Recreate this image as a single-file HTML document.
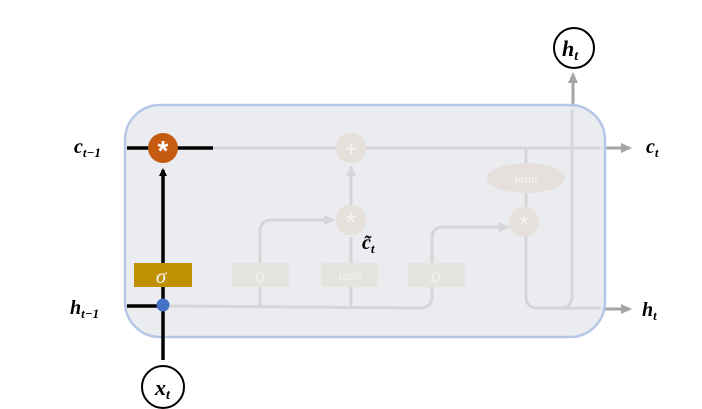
<!DOCTYPE html>
<html><head><style>body{margin:0;background:#fff}svg{display:block}</style></head><body>
<svg width="702" height="409" viewBox="0 0 702 409" xmlns="http://www.w3.org/2000/svg" font-family="Liberation Serif, serif">
<defs>
<marker id="ab" markerWidth="8" markerHeight="8" refX="6" refY="4" orient="auto" markerUnits="userSpaceOnUse"><path d="M0,0 L8,4 L0,8z" fill="#000"/></marker>
<marker id="ag" markerWidth="12" markerHeight="12" refX="9" refY="6" orient="auto" markerUnits="userSpaceOnUse"><path d="M0,1 L11,6 L0,11z" fill="#a6a6a6"/></marker>
<marker id="al" markerWidth="12" markerHeight="12" refX="9" refY="6" orient="auto" markerUnits="userSpaceOnUse"><path d="M0,1 L11,6 L0,11z" fill="#d6d6d8"/></marker>
</defs>
<!-- outside grey arrows -->
<line x1="560" y1="148" x2="630" y2="148" stroke="#a6a6a6" stroke-width="3" marker-end="url(#ag)"/>
<line x1="560" y1="309" x2="630" y2="309" stroke="#a6a6a6" stroke-width="3" marker-end="url(#ag)"/>
<line x1="573" y1="300" x2="573" y2="74" stroke="#a6a6a6" stroke-width="3" marker-end="url(#ag)"/>
<!-- box -->
<rect x="125" y="105" width="480" height="232" rx="35" fill="#eaebee" fill-opacity="0.93" stroke="#b5c7e6" stroke-width="2.5"/>
<!-- faint internals -->
<g stroke="#d6d6d8" stroke-width="3" fill="none">
<line x1="213" y1="148" x2="600" y2="148"/>
<path d="M170 306 L420 308 Q432 308 432 296 L432 238 Q432 227 444 227 L508 227" marker-end="url(#al)"/>
<path d="M260 306 L260 232 Q260 220 272 220 L333 220" marker-end="url(#al)"/>
<line x1="351" y1="306" x2="351" y2="237"/>
<line x1="351" y1="205" x2="351" y2="167" marker-end="url(#al)"/>
<line x1="526" y1="148" x2="526" y2="208"/>
<path d="M526 236 L526 296 Q526 308 538 308 L600 308"/>
<path d="M560 308 Q572 308 572 296 L572 110"/>
</g>
<rect x="232" y="263" width="57" height="24" fill="#e6e4df"/>
<rect x="321" y="263" width="57" height="24" fill="#e6e4df"/>
<rect x="408" y="263" width="57" height="24" fill="#e6e4df"/>
<g fill="#f2f2f2" font-style="italic" text-anchor="middle">
<text x="260" y="282" font-size="20">σ</text>
<text x="350" y="280" font-size="13">tanh</text>
<text x="436" y="282" font-size="20">σ</text>
</g>
<circle cx="351" cy="148" r="15" fill="#e6e0dc"/>
<text x="351" y="156" font-size="22" fill="#f4f4f4" text-anchor="middle" font-family="Liberation Sans">+</text>
<circle cx="351" cy="220" r="15" fill="#e6e0dc"/>
<text x="351" y="231" font-size="26" fill="#f4f4f4" text-anchor="middle" font-family="Liberation Sans">*</text>
<circle cx="524" cy="222" r="15" fill="#e6e0dc"/>
<text x="524" y="233" font-size="26" fill="#f4f4f4" text-anchor="middle" font-family="Liberation Sans">*</text>
<ellipse cx="526" cy="178" rx="39" ry="15" fill="#e6e0dc"/>
<text x="526" y="183" font-size="13" fill="#f4f4f4" font-style="italic" text-anchor="middle">tanh</text>
<!-- active black path -->
<g stroke="#000" stroke-width="3.5">
<line x1="127" y1="148" x2="213" y2="148"/>
<line x1="127" y1="306" x2="163" y2="306"/>
<line x1="163" y1="360" x2="163" y2="306"/>
<line x1="163" y1="306" x2="163" y2="170" marker-end="url(#ab)"/>
</g>
<rect x="134" y="263" width="58" height="24" fill="#bf9000"/>
<text x="161" y="283" font-size="21" fill="#f4f4f4" font-style="italic" text-anchor="middle">σ</text>
<circle cx="163" cy="148" r="15" fill="#c55a11"/>
<text x="163" y="160" font-size="28" fill="#fff" text-anchor="middle" font-family="Liberation Sans" font-weight="bold">*</text>
<circle cx="163" cy="305" r="6.5" fill="#4472c4"/>
<circle cx="163" cy="387" r="21" fill="#fff" stroke="#000" stroke-width="2"/>
<circle cx="574" cy="48" r="20" fill="#fff" stroke="#000" stroke-width="2"/>
<g font-weight="bold" font-style="italic" fill="#000">
<text x="155" y="395" font-size="22">x<tspan font-size="14" dy="4">t</tspan></text>
<text x="562" y="56" font-size="22">h<tspan font-size="14" dy="4">t</tspan></text>
<text x="74" y="153" font-size="20">c<tspan font-size="13" dy="4">t−1</tspan></text>
<text x="70" y="314" font-size="20">h<tspan font-size="13" dy="4">t−1</tspan></text>
<text x="646" y="153" font-size="20">c<tspan font-size="13" dy="4">t</tspan></text>
<text x="642" y="316" font-size="20">h<tspan font-size="13" dy="4">t</tspan></text>
<text x="362" y="249" font-size="20">c̃<tspan font-size="13" dy="4">t</tspan></text>
</g>
</svg>
</body></html>
